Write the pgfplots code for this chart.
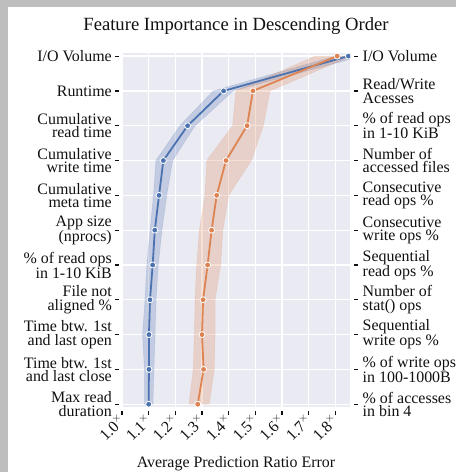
\documentclass[border=0pt]{standalone}
\usepackage{pgfplots}
\pgfplotsset{compat=1.18}
\usepackage{fontspec}
\setmainfont{Liberation Serif}
\definecolor{sbblue}{HTML}{4C72B0}
\definecolor{sborange}{HTML}{DD8452}
\definecolor{sbbg}{HTML}{EAEAF2}
\definecolor{txt}{HTML}{111111}
\definecolor{framegray}{RGB}{190,190,190}
\begin{document}
\begin{tikzpicture}[x=1bp,y=1bp]
\useasboundingbox (0,0) rectangle (456,472);
\fill[framegray] (0,0) rectangle (456,472);
\fill[white] (8,0) rectangle (456,465);
\begin{axis}[
  at={(122bp,65bp)}, anchor=south west, scale only axis,
  width=228bp, height=353.5bp,
  xmin=1.0, xmax=1.855, ymin=-0.075, ymax=10.08, y dir=reverse,
  axis background/.style={fill=sbbg},
  axis line style={draw=none},
  grid=major, major grid style={white, line width=1.3bp},
  clip marker paths=true,
  xtick={1.0,1.1,1.2,1.3,1.4,1.5,1.6,1.7,1.8},
  xticklabels={1.0$^{\times}$,1.1$^{\times}$,1.2$^{\times}$,1.3$^{\times}$,1.4$^{\times}$,1.5$^{\times}$,1.6$^{\times}$,1.7$^{\times}$,1.8$^{\times}$},
  xtick pos=bottom, ytick pos=left,
  tick align=outside,
  major tick length=4bp,
  xtick style={draw=txt, line width=1.2bp, yshift=-4bp},
  ytick style={draw=txt, line width=1.2bp, xshift=-3bp},
  xticklabel style={font=\fontsize{16}{16}\selectfont, text=txt, inner sep=0pt, yshift=-6bp, rotate=45, anchor=east},
  ytick={0,1,2,3,4,5,6,7,8,9,10},
  yticklabels={I/O Volume, Runtime, {Cumulative\\read time}, {Cumulative\\write time}, {Cumulative\\meta time}, {App size\\(nprocs)}, {\% of read ops\\in 1-10 KiB}, {File not\\aligned \%}, {Time btw. 1st\\and last open}, {Time btw. 1st\\and last close}, {Max read\\duration}},
  yticklabel style={font=\fontsize{16}{13.5}\selectfont, text=txt, align=right, inner sep=0pt, xshift=-6bp},
  title={Feature Importance in Descending Order},
  title style={font=\fontsize{18.7}{18.7}\selectfont, text=txt, at={(axis description cs:0.5,1)}, anchor=base, yshift=17bp, inner sep=0pt},
  xlabel={Average Prediction Ratio Error},
  xlabel style={font=\fontsize{16}{16}\selectfont, text=txt, at={(axis description cs:0.5,0)}, anchor=base, yshift=-60bp, inner sep=0pt},
]
% confidence bands
\addplot[draw=sbblue, draw opacity=0.15, fill=sbblue, fill opacity=0.25, line width=0.6bp] coordinates {
 (1.80,0) (1.342,1) (1.217,2) (1.127,3) (1.118,4) (1.105,5) (1.093,6) (1.086,7) (1.077,8) (1.084,9) (1.084,10)
 (1.116,10) (1.120,9) (1.124,8) (1.128,7) (1.136,6) (1.150,5) (1.168,4) (1.190,3) (1.274,2) (1.417,1) (1.90,0)
} -- cycle;
\addplot[draw=sborange, draw opacity=0.15, fill=sborange, fill opacity=0.25, line width=0.6bp] coordinates {
 (1.724,0) (1.427,1) (1.415,2) (1.318,3) (1.311,4) (1.290,5) (1.280,6) (1.274,7) (1.271,8) (1.267,9) (1.251,10)
 (1.327,10) (1.346,9) (1.349,8) (1.349,7) (1.370,6) (1.378,5) (1.400,4) (1.485,3) (1.530,2) (1.555,1) (1.86,0)
} -- cycle;
% mean lines
\addplot[sbblue, line width=1.8bp, mark=*, mark size=3bp, mark options={fill=sbblue, draw=white, line width=0.8bp}] coordinates {
 (1.849,0) (1.381,1) (1.246,2) (1.155,3) (1.139,4) (1.123,5) (1.115,6) (1.105,7) (1.101,8) (1.101,9) (1.100,10)
};
\addplot[sborange, line width=1.8bp, mark=*, mark size=3bp, mark options={fill=sborange, draw=white, line width=0.8bp}] coordinates {
 (1.807,0) (1.491,1) (1.469,2) (1.390,3) (1.355,4) (1.336,5) (1.321,6) (1.304,7) (1.300,8) (1.306,9) (1.284,10)
};
\end{axis}
\begin{axis}[
  at={(122bp,65bp)}, anchor=south west, scale only axis,
  width=228bp, height=353.5bp,
  xmin=1.0, xmax=1.855, ymin=-0.075, ymax=10.08, y dir=reverse,
  axis line style={draw=none},
  xtick=\empty,
  ytick pos=right, yticklabel pos=right,
  tick align=outside, major tick length=4bp,
  ytick style={draw=txt, line width=1.2bp, xshift=4bp},
  ytick={0,1,2,3,4,5,6,7,8,9,10},
  yticklabels={I/O Volume, {Read/Write\\Acesses}, {\% of read ops\\in 1-10 KiB}, {Number of\\accessed files}, {Consecutive\\read ops \%}, {Consecutive\\write ops \%}, {Sequential\\read ops \%}, {Number of\\stat() ops}, {Sequential\\write ops \%}, {\% of write ops\\in 100-1000B}, {\% of accesses\\in bin 4}},
  yticklabel style={font=\fontsize{16}{13.5}\selectfont, text=txt, align=left, inner sep=0pt, xshift=8.5bp},
]
\addplot[draw=none] coordinates {(1.2,5)};
\end{axis}
\end{tikzpicture}
\end{document}
